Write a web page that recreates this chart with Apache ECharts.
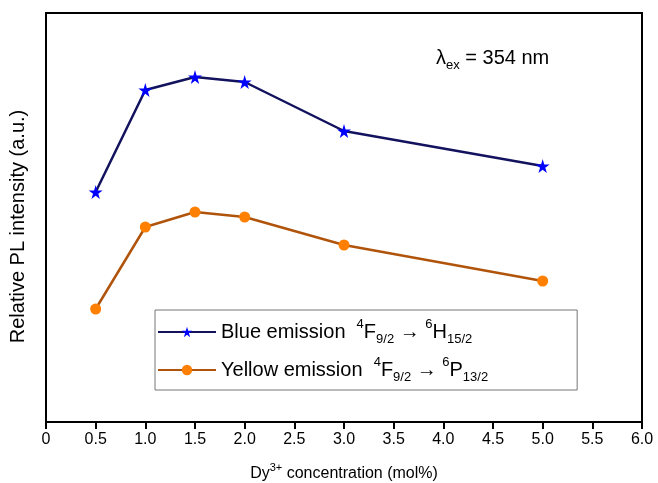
<!DOCTYPE html>
<html>
<head>
<meta charset="utf-8">
<script src="https://cdn.jsdelivr.net/npm/echarts@6/dist/echarts.min.js"></script>
<style>
  html, body { margin: 0; padding: 0; background: #fff; }
  #main { width: 658px; height: 483px; }
</style>
</head>
<body>
<div id="main"></div>
<script>
// Dy3+ concentration (mol%)
var conc = [0.5, 1.0, 1.5, 2.0, 3.0, 5.0];
// relative PL intensity (arbitrary units)
var blueEmission = [230, 332, 345, 340, 291, 256];
var yellowEmission = [113, 195, 210, 205, 177, 141];
var seriesNames = ['Blue emission', 'Yellow emission'];

var FONT = 'Liberation Sans, Arial, sans-serif';
var starPath = 'path://M50,0 L61,35 L98,35 L68,57 L79,91 L50,70 L21,91 L32,57 L2,35 L39,35 Z';

function pairs(ys) {
    return conc.map(function (x, i) { return [x, ys[i]]; });
}

// rich styles for super/subscripts (big = legend / annotation, small = axis name)
var richBig = {
    t: { fontSize: 20, lineHeight: 28, color: '#000', fontFamily: FONT },
    sup: { fontSize: 13, lineHeight: 13, verticalAlign: 'top', color: '#000', fontFamily: FONT },
    sub: { fontSize: 13, lineHeight: 13, verticalAlign: 'bottom', color: '#000', fontFamily: FONT }
};
var richSmall = {
    t: { fontSize: 16, lineHeight: 24, color: '#000', fontFamily: FONT },
    sup: { fontSize: 11, lineHeight: 11, verticalAlign: 'top', color: '#000', fontFamily: FONT }
};

var chart = echarts.init(document.getElementById('main'));
chart.setOption({
    animation: false,
    grid: {
        left: 46, right: 16, top: 13, bottom: 61,
        outerBoundsMode: 'none',
        show: true, borderColor: '#000', borderWidth: 2
    },
    legend: {
        left: 155, top: 310,
        orient: 'vertical',
        itemWidth: 58, itemHeight: 13, itemGap: 10,
        padding: [8, 89, 6, 2],
        borderColor: '#777', borderWidth: 1,
        data: seriesNames,
        formatter: function (name) {
            if (name === 'Blue emission') {
                return '{t|Blue emission  }{sup|4}{t|F}{sub|9/2}{t| \u2192 }{sup|6}{t|H}{sub|15/2}';
            }
            return '{t|Yellow emission  }{sup|4}{t|F}{sub|9/2}{t| \u2192 }{sup|6}{t|P}{sub|13/2}';
        },
        textStyle: { rich: richBig }
    },
    graphic: [{
        type: 'text',
        left: 436, top: 48,
        style: {
            text: '{t|\u03bb}{sub|ex}{t| = 354 nm}',
            rich: richBig
        }
    }],
    xAxis: {
        type: 'value',
        min: 0, max: 6, interval: 0.5,
        name: '{t|Dy}{sup|3+}{t| concentration (mol%)}',
        nameLocation: 'middle',
        nameGap: 40,
        nameTextStyle: { rich: richSmall },
        axisLine: { lineStyle: { color: '#000', width: 2 } },
        axisTick: { length: 7, lineStyle: { color: '#000', width: 2 } },
        axisLabel: {
            color: '#000', fontSize: 16, fontFamily: FONT, margin: 10,
            formatter: function (v) { return v === 0 ? '0' : v.toFixed(1); }
        },
        splitLine: { show: false }
    },
    yAxis: {
        type: 'value',
        min: 0, max: 409,
        name: 'Relative PL intensity (a.u.)',
        nameLocation: 'middle',
        nameGap: 18,
        nameTextStyle: { color: '#000', fontSize: 20, fontFamily: FONT, padding: [0, 18, 0, 0] },
        axisLine: { show: true, lineStyle: { color: '#000', width: 2 } },
        axisTick: { show: false },
        axisLabel: { show: false },
        splitLine: { show: false }
    },
    series: [
        {
            name: seriesNames[0],
            type: 'line',
            data: pairs(blueEmission),
            symbol: starPath,
            symbolSize: 14,
            itemStyle: { color: '#0000ff' },
            lineStyle: { color: '#12125e', width: 2.5 },
            z: 3
        },
        {
            name: seriesNames[1],
            type: 'line',
            data: pairs(yellowEmission),
            symbol: 'circle',
            symbolSize: 11,
            itemStyle: { color: '#ff7f00' },
            lineStyle: { color: '#b0540c', width: 2.5 },
            z: 2
        }
    ]
});
</script>
</body>
</html>
